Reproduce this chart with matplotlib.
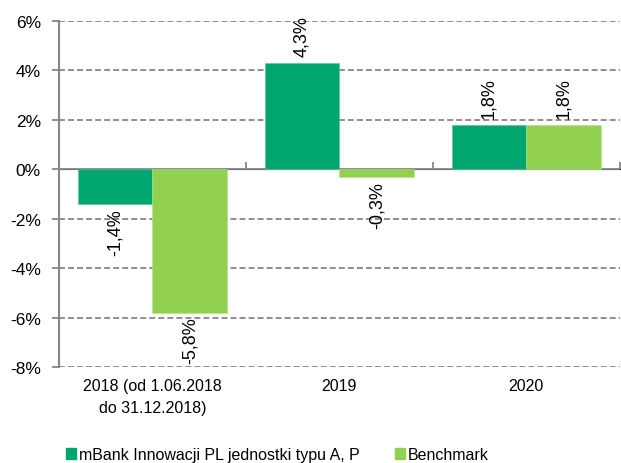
import matplotlib
matplotlib.use('Agg')
import matplotlib.pyplot as plt
from matplotlib.patches import Patch
import numpy as np

plt.rcParams['font.family'] = ['Liberation Sans', 'DejaVu Sans']
plt.rcParams['font.size'] = 11.5

categories = ['2018 (od 1.06.2018\ndo 31.12.2018)', '2019', '2020']
fund_vals  = [-1.4, 4.3, 1.8]
bench_vals = [-5.8, -0.3, 1.8]
series_names = ['mBank Innowacji PL jednostki typu A, P', 'Benchmark']
yticks = [-8, -6, -4, -2, 0, 2, 4, 6]

FUND_COL  = '#00A66F'
BENCH_COL = '#92D050'
GRID_COL  = '#868686'

fig = plt.figure(figsize=(6.21, 4.64), dpi=100)
ax = fig.add_axes([0.095, 0.207, 0.903, 0.746])

x = np.arange(len(categories))
w = 0.4
ax.bar(x - w/2, fund_vals, w, color=FUND_COL, edgecolor='#5cc49b', lw=0.4, zorder=3)
ax.bar(x + w/2, bench_vals, w, color=BENCH_COL, edgecolor='#b5e08c', lw=0.4, zorder=3)

# value labels, rotated like the original
for xs, vals in [(x - w/2, fund_vals), (x + w/2, bench_vals)]:
    for xi, v in zip(xs, vals):
        txt = f'{v:.1f}%'.replace('.', ',')
        off = 5 if v >= 0 else -3
        ax.annotate(txt, (xi, v), xytext=(0, off), textcoords='offset points',
                    rotation=90, ha='center', va='bottom' if v >= 0 else 'top',
                    fontsize=13, zorder=4)

ax.set_xlim(-0.5, len(categories) - 0.5)
ax.set_ylim(-8, 6)
ax.set_yticks(yticks)
ax.set_yticklabels([f'{t}%' for t in yticks], fontsize=12.5)
for t in yticks:
    if t != 0:
        ax.axhline(t, color=GRID_COL, ls=(0, (3.3, 1.7)), lw=1.3, zorder=1)
ax.axhline(0, color=GRID_COL, lw=1.3, zorder=2)

for s in ['top', 'right', 'bottom']:
    ax.spines[s].set_visible(False)
ax.spines['left'].set_color(GRID_COL)
ax.spines['left'].set_linewidth(1.5)
ax.tick_params(axis='y', color=GRID_COL, length=5, width=1.3, pad=8)

# category labels at the bottom, tick marks on the zero line
ax.set_xticks(x)
ax.set_xticklabels(categories, linespacing=1.55)
ax.tick_params(axis='x', length=0, pad=8)
sec = ax.secondary_xaxis(8 / 14)
sec.set_xticks(np.arange(len(categories)) + 0.5)
sec.set_xticklabels([])
sec.tick_params(axis='x', direction='out', length=5, width=1.3, color=GRID_COL)
sec.spines['bottom'].set_visible(False)

handles = [Patch(color=FUND_COL), Patch(color=BENCH_COL)]
fig.legend(handles, series_names, loc='center', bbox_to_anchor=(0.447, 0.018),
           ncol=2, frameon=False, handlelength=0.6, handleheight=0.6,
           handletextpad=0.2, columnspacing=2.2, fontsize=11.5)

fig.savefig('out.png', dpi=100)
